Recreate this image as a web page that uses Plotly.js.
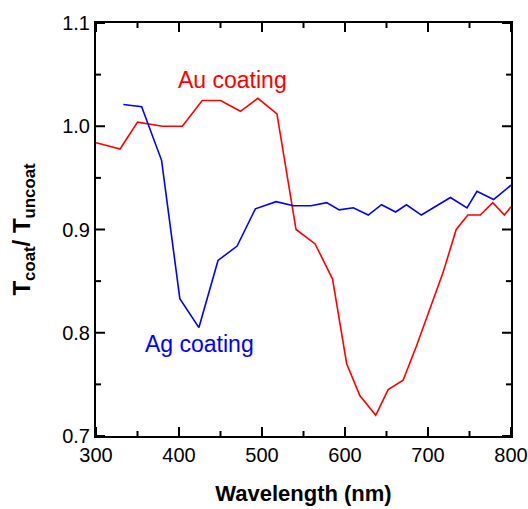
<!DOCTYPE html>
<html>
<head>
<meta charset="utf-8">
<script src="https://cdn.plot.ly/plotly-3.0.1.min.js"></script>
<style>html,body{margin:0;padding:0;background:#fff;}#chart{width:528px;height:509px;}</style>
</head>
<body>
<div id="chart"></div>
<script>
// Au coating (red)
const auWavelength = [300, 329, 350, 380, 404, 428, 450, 474, 495, 518, 541, 564, 585, 602, 618, 637, 652, 670, 686, 702, 718, 734, 748, 763, 778, 792, 800];
const auRatio      = [0.984, 0.978, 1.004, 1.000, 1.000, 1.025, 1.025, 1.0145, 1.027, 1.012, 0.900, 0.886, 0.852, 0.770, 0.739, 0.720, 0.745, 0.754, 0.787, 0.822, 0.858, 0.900, 0.914, 0.914, 0.926, 0.914, 0.922];
// Ag coating (blue)
const agWavelength = [333, 355, 379, 401, 424, 447, 470, 492, 517, 538, 559, 578, 593, 610, 628, 644, 661, 674, 692, 727, 747, 759, 779, 800];
const agRatio      = [1.021, 1.019, 0.967, 0.833, 0.805, 0.870, 0.884, 0.920, 0.927, 0.923, 0.923, 0.926, 0.919, 0.921, 0.914, 0.924, 0.917, 0.924, 0.914, 0.931, 0.921, 0.937, 0.929, 0.943];
const xTicks = [300, 400, 500, 600, 700, 800];
const xMinorTicks = [350, 450, 550, 650, 750];
const yTicks = [0.7, 0.8, 0.9, 1.0, 1.1];
const yMinorTicks = [0.75, 0.85, 0.95, 1.05];
const yTickText = ["0.7", "0.8", "0.9", "1.0", "1.1"];

const font = "Arial, 'Liberation Sans', sans-serif";
const traces = [
  {x: auWavelength, y: auRatio, mode: "lines", line: {color: "#ff0000", width: 1.6}, name: "Au coating"},
  {x: agWavelength, y: agRatio, mode: "lines", line: {color: "#0000ff", width: 1.6}, name: "Ag coating"}
];

// inward tick marks on all four sides, placed through the axes' own scales
const tickLine = {color: "#000", width: 2};
const shapes = [];
function addX(v, len) {
  shapes.push({type: "line", layer: "above", xref: "x", yref: "paper", ysizemode: "pixel", yanchor: 0, x0: v, x1: v, y0: 0, y1: len, line: tickLine});
  shapes.push({type: "line", layer: "above", xref: "x", yref: "paper", ysizemode: "pixel", yanchor: 1, x0: v, x1: v, y0: 0, y1: -len, line: tickLine});
}
function addY(v, len) {
  shapes.push({type: "line", layer: "above", xref: "paper", yref: "y", xsizemode: "pixel", xanchor: 0, y0: v, y1: v, x0: 0, x1: len, line: tickLine});
  shapes.push({type: "line", layer: "above", xref: "paper", yref: "y", xsizemode: "pixel", xanchor: 1, y0: v, y1: v, x0: 0, x1: -len, line: tickLine});
}
xTicks.forEach(v => addX(v, 9));
xMinorTicks.forEach(v => addX(v, 5));
yTicks.forEach(v => addY(v, 9));
yMinorTicks.forEach(v => addY(v, 5));

const layout = {
  width: 528, height: 509,
  margin: {l: 96, r: 17, t: 23, b: 73},
  paper_bgcolor: "#fff", plot_bgcolor: "#fff",
  showlegend: false,
  xaxis: {
    range: [300, 800], tickmode: "array", tickvals: xTicks, ticktext: xTicks.map(String),
    showgrid: false, zeroline: false, showline: true, linecolor: "#000", linewidth: 2,
    mirror: true, ticks: "",
    tickfont: {family: font, size: 20, color: "#000"},
    title: {text: "<b>Wavelength (nm)</b>", font: {family: font, size: 22, color: "#000"}, standoff: 21}
  },
  yaxis: {
    range: [0.7, 1.1], tickmode: "array", tickvals: yTicks, ticktext: yTickText,
    showgrid: false, zeroline: false, showline: true, linecolor: "#000", linewidth: 2,
    mirror: true, ticks: "",
    tickfont: {family: font, size: 20, color: "#000"},
    title: {text: "<b>T<sub>coat</sub>/ T<sub>uncoat</sub></b>", font: {family: font, size: 24, color: "#000"}, standoff: 25}
  },
  shapes: shapes,
  annotations: [
    {x: 464, y: 1.045, xref: "x", yref: "y", text: "Au coating", showarrow: false, font: {family: font, size: 23, color: "#ff0000"}},
    {x: 425, y: 0.789, xref: "x", yref: "y", text: "Ag coating", showarrow: false, font: {family: font, size: 23, color: "#0000ff"}}
  ]
};
Plotly.newPlot("chart", traces, layout, {staticPlot: true, displayModeBar: false});
</script>
</body>
</html>
